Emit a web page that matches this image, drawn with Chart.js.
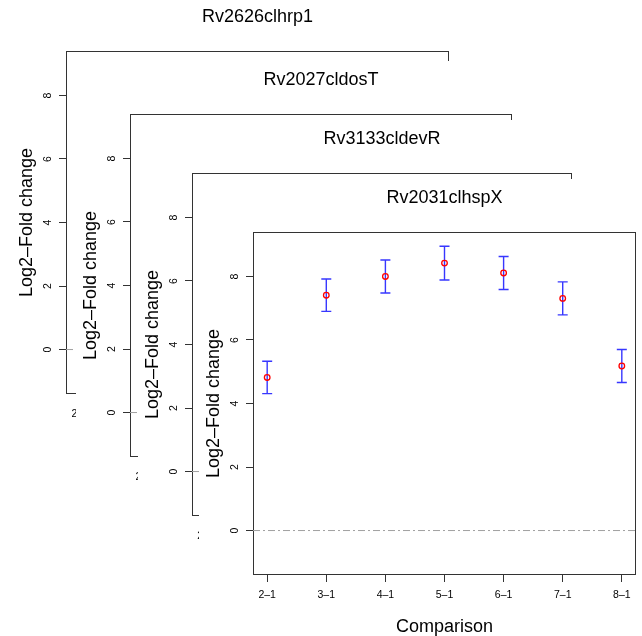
<!DOCTYPE html>
<html>
<head>
<meta charset="utf-8">
<script src="https://cdn.jsdelivr.net/npm/chart.js@4/dist/chart.umd.min.js"></script>
<style>
  html, body { margin: 0; padding: 0; background: #fff; }
  #stage { position: relative; width: 642px; height: 636px; overflow: hidden; }
  #stage canvas { position: absolute; background: #fff; }
</style>
</head>
<body>
<div id="stage">
  <canvas id="panel1" width="443" height="457" style="left:12px;top:-2px"></canvas>
  <canvas id="panel2" width="442" height="457" style="left:76px;top:61px"></canvas>
  <canvas id="panel3" width="440" height="457" style="left:138px;top:120px"></canvas>
  <canvas id="panel4" width="443" height="457" style="left:199px;top:179px"></canvas>
</div>
<script>
const comparisons = ["2–1", "3–1", "4–1", "5–1", "6–1", "7–1", "8–1"];
const yTicks = [0, 2, 4, 6, 8];
const zeroLine = 0;

const hrp1Title = "Rv2626clhrp1";
const dosTTitle = "Rv2027cldosT";
const devRTitle = "Rv3133cldevR";
const hspXTitle = "Rv2031clhspX";

// back panels are hidden by the ones in front, only the first dosT bar peeks out
const hrp1Values = [];
const hrp1Errors = [];
const dosTValues = [-0.05];
const dosTErrors = [0.46];
const devRValues = [];
const devRErrors = [];
const hspXValues = [4.82, 7.41, 8.00, 8.42, 8.11, 7.31, 5.18];
const hspXErrors = [0.51, 0.51, 0.52, 0.53, 0.52, 0.52, 0.52];

Chart.defaults.font.family = "'Liberation Sans', Arial, Helvetica, sans-serif";
Chart.defaults.color = "#000";

const X_MIN = 0.76, X_MAX = 7.24;
const Y_MIN = -1.4, Y_MAX = 9.4;

// box round the plot region + error bars, drawn before the points
const boxAndErrors = {
    id: "boxAndErrors",
    beforeDatasetsDraw(chart) {
        const { ctx, chartArea: a, scales: { x, y } } = chart;
        ctx.save();
        ctx.strokeStyle = "#333";
        ctx.lineWidth = 1;
        ctx.strokeRect(a.left + 0.5, a.top + 0.5, a.right - a.left - 1, a.bottom - a.top - 1);

        const ds = chart.data.datasets[1];
        ctx.strokeStyle = "rgba(20,20,255,0.85)";
        ctx.lineWidth = 1.4;
        ds.data.forEach((p, i) => {
            const err = ds.errors[i];
            const px = x.getPixelForValue(p.x);
            const top = y.getPixelForValue(p.y + err);
            const bot = y.getPixelForValue(p.y - err);
            ctx.beginPath();
            ctx.moveTo(px, top); ctx.lineTo(px, bot);
            ctx.moveTo(px - 5, top); ctx.lineTo(px + 5, top);
            ctx.moveTo(px - 5, bot); ctx.lineTo(px + 5, bot);
            ctx.stroke();
        });
        ctx.restore();
    }
};

function makePanel(id, title, values, errors) {
    return new Chart(document.getElementById(id), {
        type: "scatter",
        data: {
            datasets: [
                {
                    data: [{ x: X_MIN, y: zeroLine }, { x: X_MAX, y: zeroLine }],
                    showLine: true,
                    borderColor: "#a0a0a0",
                    borderWidth: 1,
                    borderDash: [7, 3, 2, 3],
                    pointRadius: 0
                },
                {
                    data: values.map((v, i) => ({ x: i + 1, y: v })),
                    errors: errors,
                    pointRadius: 2.8,
                    pointBorderWidth: 1.3,
                    pointBorderColor: "#ff0000",
                    pointBackgroundColor: "rgba(0,0,0,0)"
                }
            ]
        },
        options: {
            responsive: false,
            animation: false,
            devicePixelRatio: 1,
            layout: { padding: { top: 0, right: 6, bottom: 0, left: 0 } },
            plugins: {
                legend: { display: false },
                tooltip: { enabled: false },
                title: {
                    display: true,
                    text: title,
                    fullSize: false,
                    color: "#000",
                    font: { size: 18, weight: "normal", lineHeight: 1.2 },
                    padding: { top: 8.7, bottom: 22.7 }
                }
            },
            scales: {
                x: {
                    type: "linear",
                    min: X_MIN,
                    max: X_MAX,
                    afterBuildTicks: s => { s.ticks = comparisons.map((c, i) => ({ value: i + 1 })); },
                    afterFit: s => { s.height = 61; },
                    ticks: {
                        callback: v => comparisons[v - 1],
                        font: { size: 10.5 },
                        color: "#000",
                        padding: 7.2,
                        autoSkip: false,
                        minRotation: 0,
                        maxRotation: 0
                    },
                    grid: { drawOnChartArea: false, tickLength: 7, tickColor: "#333" },
                    border: { display: false },
                    title: {
                        display: true,
                        text: "Comparison",
                        color: "#000",
                        font: { size: 18, lineHeight: 1 },
                        padding: { top: 0, bottom: 0 }
                    }
                },
                y: {
                    min: Y_MIN,
                    max: Y_MAX,
                    afterBuildTicks: s => { s.ticks = yTicks.map(v => ({ value: v })); },
                    afterFit: s => { s.width = 54; },
                    ticks: {
                        font: { size: 10.5 },
                        color: "#000",
                        padding: 8,
                        minRotation: 90,
                        maxRotation: 90,
                        crossAlign: "center",
                        autoSkip: false
                    },
                    grid: { drawOnChartArea: false, tickLength: 7, tickColor: "#333" },
                    border: { display: false },
                    title: {
                        display: true,
                        text: "Log2–Fold change",
                        color: "#000",
                        font: { size: 18, lineHeight: 1 },
                        padding: { top: 6, bottom: 0 }
                    }
                }
            }
        },
        plugins: [boxAndErrors]
    });
}

// back to front
makePanel("panel1", hrp1Title, hrp1Values, hrp1Errors);
makePanel("panel2", dosTTitle, dosTValues, dosTErrors);
makePanel("panel3", devRTitle, devRValues, devRErrors);
makePanel("panel4", hspXTitle, hspXValues, hspXErrors);
</script>
</body>
</html>
